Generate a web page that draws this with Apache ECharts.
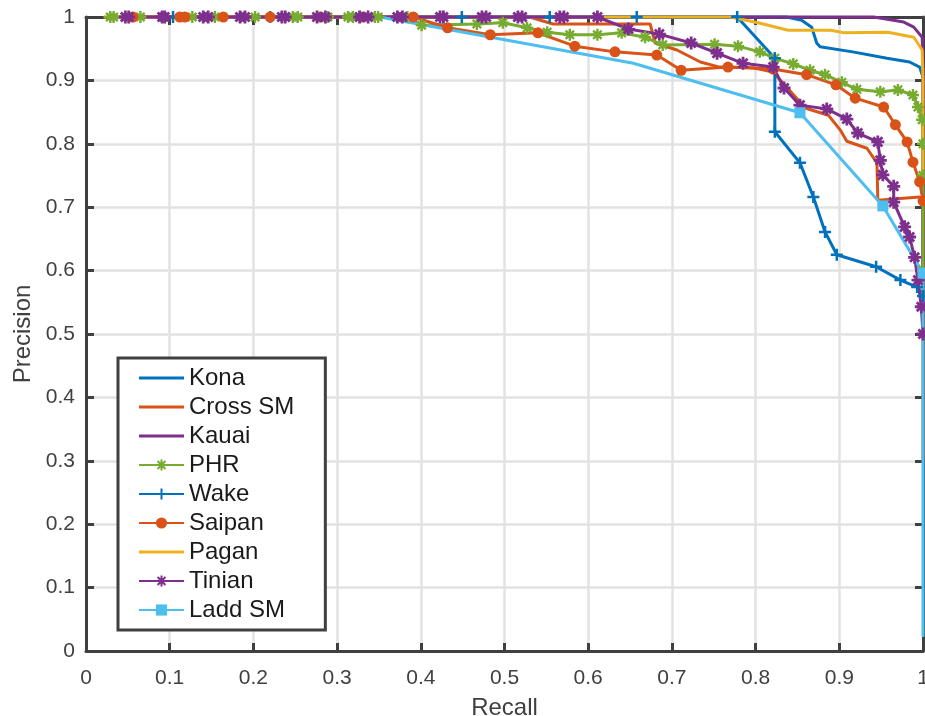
<!DOCTYPE html>
<html>
<head>
<meta charset="utf-8">
<script src="https://cdn.jsdelivr.net/npm/echarts@6/dist/echarts.min.js"></script>
<style>
  html, body { margin: 0; padding: 0; background: #fff; }
  #chart { width: 925px; height: 716px; }
</style>
</head>
<body>
<div id="chart"></div>
<script>
// precision / recall curves, each point is [recall, precision]
const kona = [[0.03, 1], [0.837, 1], [0.855, 0.995], [0.867, 0.984], [0.873, 0.959], [0.877, 0.953],
  [0.916, 0.945], [0.957, 0.935], [0.984, 0.929], [0.996, 0.921], [1, 0.905], [1, 0.55]];
const crossSM = [[0.03, 1], [0.530, 1], [0.558, 0.989], [0.674, 0.989], [0.680, 0.959], [0.706, 0.948],
  [0.734, 0.929], [0.757, 0.921], [0.797, 0.920], [0.821, 0.913], [0.849, 0.872], [0.860, 0.856],
  [0.887, 0.845], [0.901, 0.822], [0.909, 0.804], [0.933, 0.793], [0.945, 0.770], [0.946, 0.711],
  [0.996, 0.716], [1, 0.70], [1, 0.30]];
const kauai = [[0.044, 1], [0.941, 1], [0.977, 0.992], [0.989, 0.984], [0.999, 0.968], [1, 0.93], [1, 0.6]];
const phr = [[0.029, 1], [0.033, 1], [0.065, 1], [0.127, 1], [0.154, 1], [0.202, 1], [0.247, 1], [0.253, 1],
  [0.289, 1], [0.313, 1], [0.319, 1], [0.345, 1], [0.349, 1], [0.384, 1], [0.401, 0.987], [0.467, 0.989],
  [0.498, 0.991], [0.527, 0.983], [0.551, 0.976], [0.578, 0.972], [0.611, 0.972], [0.640, 0.975],
  [0.668, 0.968], [0.689, 0.956], [0.751, 0.957], [0.779, 0.954], [0.805, 0.945], [0.823, 0.935],
  [0.845, 0.926], [0.865, 0.916], [0.883, 0.909], [0.903, 0.897], [0.921, 0.886], [0.949, 0.882],
  [0.970, 0.885], [0.988, 0.877], [0.994, 0.858], [0.999, 0.838], [1, 0.80], [1, 0.75], [1, 0.60]];
const wake = [[0.104, 1], [0.220, 1], [0.327, 1], [0.449, 1], [0.554, 1], [0.658, 1], [0.778, 1],
  [0.823, 0.935], [0.823, 0.819], [0.853, 0.770], [0.869, 0.716], [0.883, 0.661], [0.897, 0.625],
  [0.944, 0.606], [0.973, 0.585], [0.993, 0.574], [1, 0.56]];
const saipan = [[0.056, 1], [0.112, 1], [0.118, 1], [0.164, 1], [0.220, 1], [0.280, 1], [0.331, 1], [0.391, 1],
  [0.432, 0.983], [0.483, 0.972], [0.540, 0.975], [0.584, 0.954], [0.632, 0.945], [0.682, 0.940],
  [0.711, 0.916], [0.767, 0.921], [0.821, 0.918], [0.861, 0.909], [0.896, 0.893], [0.919, 0.872],
  [0.953, 0.858], [0.967, 0.830], [0.981, 0.803], [0.988, 0.771], [0.996, 0.740], [1, 0.71]];
const pagan = [[0.021, 1], [0.770, 1], [0.803, 0.991], [0.839, 0.979], [0.890, 0.979], [0.906, 0.975],
  [0.958, 0.976], [0.989, 0.968], [0.999, 0.948], [1, 0.90], [1, 0.75]];
const tinian = [[0.047, 1], [0.051, 1], [0.091, 1], [0.094, 1], [0.140, 1], [0.146, 1], [0.184, 1], [0.190, 1],
  [0.234, 1], [0.238, 1], [0.276, 1], [0.286, 1], [0.327, 1], [0.337, 1], [0.372, 1], [0.378, 1],
  [0.423, 1], [0.427, 1], [0.473, 1], [0.478, 1], [0.516, 1], [0.521, 1], [0.566, 1], [0.571, 1],
  [0.611, 1], [0.648, 0.981], [0.685, 0.973], [0.723, 0.959], [0.754, 0.943], [0.785, 0.927],
  [0.821, 0.921], [0.834, 0.888], [0.853, 0.861], [0.885, 0.855], [0.909, 0.839], [0.922, 0.817],
  [0.946, 0.803], [0.949, 0.774], [0.952, 0.751], [0.965, 0.733], [0.965, 0.708], [0.978, 0.669],
  [0.984, 0.653], [0.990, 0.621], [0.994, 0.585], [0.998, 0.543], [1, 0.50]];
const laddSM = [[0.351, 1], [0.654, 0.927], [0.853, 0.849], [0.952, 0.702], [1, 0.596], [1, 0.022]];
const laddMarks = [2, 3, 4];   // only these points carry a square

const seriesNames = ['Kona', 'Cross SM', 'Kauai', 'PHR', 'Wake', 'Saipan', 'Pagan', 'Tinian', 'Ladd SM'];
const plainLines = ['Kona', 'Cross SM', 'Kauai', 'Pagan'];   // no marker in the legend either

const FONT = 'Liberation Sans, Arial, sans-serif';
const AXIS = '#404040';
const ASTER = 'path://M5,0L5,10M0,5L10,5M1.5,1.5L8.5,8.5M1.5,8.5L8.5,1.5';
const PLUS = 'path://M5,0L5,10M0,5L10,5';
const LINE_ICON = 'path://M0,0H45V3H0Z';

function fmt(v) {
  return v === 0 || v === 1 ? String(v) : v.toFixed(1);
}

function line(name, data, color, symbol, size, bw, marks) {
  return {
    name: name,
    type: 'line',
    data: data,
    clip: false,
    animation: false,
    symbol: symbol || 'none',
    showSymbol: !!symbol,
    showAllSymbol: true,
    symbolSize: marks ? function (v, p) { return marks.indexOf(p.dataIndex) >= 0 ? size : 0; } : size,
    lineStyle: { color: color, width: 3 },
    itemStyle: { color: color, borderColor: color, borderWidth: bw || 0 },
    emphasis: { disabled: true },
  };
}

const xBase = {
  type: 'value', min: 0, max: 1, interval: 0.1,
  axisLine: { show: true, onZero: false, lineStyle: { color: AXIS, width: 3 } },
  axisTick: { show: true, inside: true, length: 8, lineStyle: { color: AXIS, width: 3 } },
};

let myChart = echarts.init(document.getElementById('chart'));
let option = {
  backgroundColor: '#fff',
  animation: false,
  grid: { left: 86, right: 2, top: 17, bottom: 65, outerBoundsMode: 'none', containLabel: false },
  legend: {
    orient: 'vertical',
    left: 118,
    top: 358,
    padding: [8, 31, 8, 20],
    itemWidth: 45,
    itemHeight: 14,
    itemGap: 5,
    backgroundColor: '#fff',
    borderColor: AXIS,
    borderWidth: 3,
    borderRadius: 0,
    selectedMode: false,
    textStyle: { fontSize: 24, lineHeight: 24, color: '#1a1a1a', fontFamily: FONT },
    data: seriesNames.map(n => plainLines.indexOf(n) >= 0 ? { name: n, icon: LINE_ICON } : n),
  },
  xAxis: [
    Object.assign({}, xBase, {
      position: 'bottom',
      name: 'Recall', nameLocation: 'middle', nameGap: 45,
      nameTextStyle: { fontSize: 24, color: AXIS, fontFamily: FONT },
      axisLabel: { fontSize: 21, color: AXIS, fontFamily: FONT, margin: 17, formatter: fmt },
      splitLine: { show: true, showMinLine: false, showMaxLine: false, lineStyle: { color: '#e2e2e2', width: 2.5 } },
    }),
    Object.assign({}, xBase, { position: 'top', axisLabel: { show: false }, splitLine: { show: false } }),
  ],
  yAxis: [
    Object.assign({}, xBase, {
      position: 'left',
      name: 'Precision', nameLocation: 'middle', nameGap: 50,
      nameTextStyle: { fontSize: 24, color: AXIS, fontFamily: FONT },
      axisLabel: { fontSize: 21, color: AXIS, fontFamily: FONT, margin: 11, formatter: fmt },
      splitLine: { show: true, showMinLine: false, showMaxLine: false, lineStyle: { color: '#e2e2e2', width: 2.5 } },
    }),
    Object.assign({}, xBase, { position: 'right', axisLabel: { show: false }, splitLine: { show: false } }),
  ],
  series: [
    line('Kona', kona, '#0072BD'),
    line('Cross SM', crossSM, '#D95319'),
    line('Kauai', kauai, '#7E2F8E'),
    line('PHR', phr, '#77AC30', ASTER, 12, 2.4),
    line('Wake', wake, '#0072BD', PLUS, 12, 2.5),
    line('Saipan', saipan, '#D95319', 'circle', 11),
    line('Pagan', pagan, '#EDB120'),
    line('Tinian', tinian, '#7E2F8E', ASTER, 13, 2.8),
    line('Ladd SM', laddSM, '#4DBEEE', 'rect', 11, 0, laddMarks),
  ],
};
myChart.setOption(option);
</script>
</body>
</html>
